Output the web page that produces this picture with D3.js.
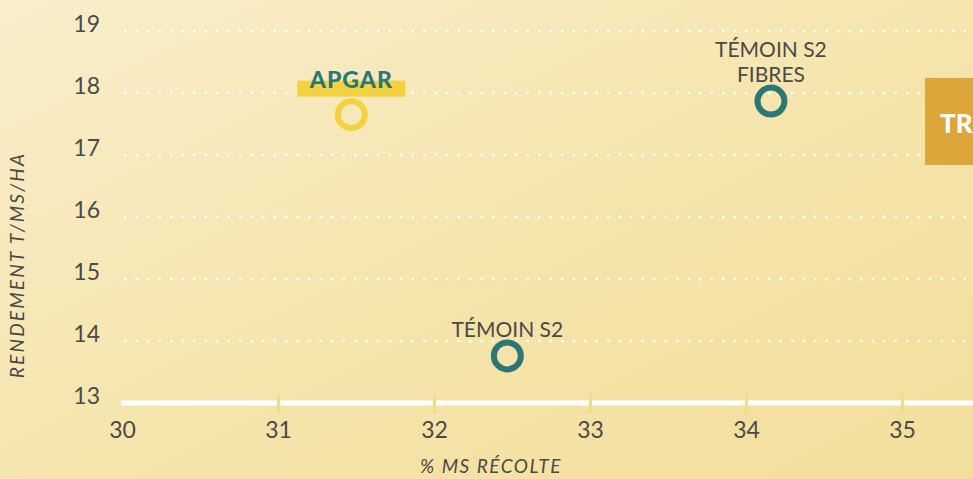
<!DOCTYPE html>
<html>
<head>
<meta charset="utf-8">
<script src="https://cdn.jsdelivr.net/npm/d3@7"></script>
<style>
  html, body { margin: 0; padding: 0; overflow: hidden; }
  svg { display: block; }
</style>
</head>
<body>
<svg width="973" height="479"></svg>
<script>
// data
const names = ["APGAR", "TÉMOIN S2\nFIBRES", "TÉMOIN S2"];
const msRecolte = [31.47, 34.16, 32.47];
const rendement = [17.65, 17.87, 13.76];
const isApgar = [true, false, false];
const xTicks = [30, 31, 32, 33, 34, 35];
const yTicks = [13, 14, 15, 16, 17, 18, 19];

const svg = d3.select('svg');
const W = +svg.attr('width');
const H = +svg.attr('height');

const teal = "#2b7775";
const yellow = "#f3d23f";
const grey = "#4a4a48";
const font = "Lato, 'Noto Sans', sans-serif";

// background gradient
const defs = svg.append("defs");
const grad = defs.append("linearGradient")
  .attr("id", "bg").attr("x1", "0").attr("y1", "0").attr("x2", "1").attr("y2", "1");
grad.append("stop").attr("offset", "0%").attr("stop-color", "#f9eecb");
grad.append("stop").attr("offset", "55%").attr("stop-color", "#f5e4ab");
grad.append("stop").attr("offset", "100%").attr("stop-color", "#f3df9c");
svg.append("rect").attr("width", W).attr("height", H).attr("fill", "url(#bg)");

// scales
const xScale = d3.scaleLinear().domain([30, 35]).range([122, 902]);
const yScale = d3.scaleLinear().domain([13, 19]).range([403, 31]);

// dotted grid lines
svg.append("g")
  .selectAll("line")
  .data(yTicks.filter(d => d > 13))
  .enter()
  .append("line")
  .attr("x1", 124)
  .attr("x2", W)
  .attr("y1", d => yScale(d))
  .attr("y2", d => yScale(d))
  .attr("stroke", "#ffffff")
  .attr("stroke-width", 2.5)
  .attr("stroke-dasharray", "2.5,9");

// y axis labels
const yAxis = svg.append("g")
  .attr("transform", "translate(122,0)")
  .call(d3.axisLeft(yScale).tickValues(yTicks).tickSize(0).tickPadding(22).tickFormat(d3.format("d")));
yAxis.select(".domain").remove();
yAxis.selectAll("text")
  .attr("dy", 0)
  .attr("fill", grey)
  .style("font-family", font)
  .style("font-size", "23px");

// x axis
const xAxis = svg.append("g")
  .attr("transform", "translate(0,403)")
  .call(d3.axisBottom(xScale).tickValues(xTicks).tickFormat(d3.format("d")));
xAxis.select(".domain").remove();
xAxis.insert("line", ":first-child")
  .attr("x1", xScale(30) - 1)
  .attr("x2", W)
  .attr("stroke", "#ffffff")
  .attr("stroke-width", 5);
xAxis.selectAll(".tick line")
  .attr("y1", -9)
  .attr("y2", 10)
  .attr("stroke", "#efdc88")
  .attr("stroke-width", 3)
  .attr("opacity", d => d === 30 ? 0 : 1);
xAxis.selectAll(".tick text")
  .attr("y", 35)
  .attr("dy", 0)
  .attr("fill", grey)
  .style("font-family", font)
  .style("font-size", "23px");

// axis titles
svg.append("text")
  .attr("transform", "translate(24,265) rotate(-90)")
  .attr("text-anchor", "middle")
  .attr("fill", grey)
  .style("font-family", font)
  .style("font-style", "italic")
  .style("font-size", "19px")
  .style("letter-spacing", "2.2px")
  .text("RENDEMENT T/MS/HA");

svg.append("text")
  .attr("x", 491)
  .attr("y", 473)
  .attr("text-anchor", "middle")
  .attr("fill", grey)
  .style("font-family", font)
  .style("font-style", "italic")
  .style("font-size", "19px")
  .style("letter-spacing", "1.5px")
  .text("% MS RÉCOLTE");

// points
const data = names.map((n, i) => ({ name: n, x: msRecolte[i], y: rendement[i], apgar: isApgar[i] }));

svg.append("g")
  .selectAll("circle")
  .data(data)
  .enter()
  .append("circle")
  .attr("cx", d => xScale(d.x))
  .attr("cy", d => yScale(d.y))
  .attr("r", 13.5)
  .attr("fill", "none")
  .attr("stroke", d => d.apgar ? yellow : teal)
  .attr("stroke-width", 6);

// labels
data.forEach(d => {
  const cx = xScale(d.x), cy = yScale(d.y);
  if (d.apgar) {
    svg.append("rect")
      .attr("x", cx - 54)
      .attr("y", cy - 34)
      .attr("width", 108)
      .attr("height", 16)
      .attr("fill", yellow);
    svg.append("text")
      .attr("x", cx)
      .attr("y", cy - 27)
      .attr("text-anchor", "middle")
      .attr("fill", teal)
      .style("font-family", font)
      .style("font-weight", 900)
      .style("font-size", "23px")
      .style("letter-spacing", "1px")
      .text(d.name);
  } else {
    const lines = d.name.split("\n");
    lines.forEach((l, j) => {
      svg.append("text")
        .attr("x", cx)
        .attr("y", cy - 19 - (lines.length - 1 - j) * 25)
        .attr("text-anchor", "middle")
        .attr("fill", grey)
        .style("font-family", font)
        .style("font-size", "21px")
        .text(l);
    });
  }
});

// cut-off box at right edge
svg.append("rect")
  .attr("x", 925)
  .attr("y", 78)
  .attr("width", 60)
  .attr("height", 87)
  .attr("fill", "#dca63b");
svg.append("text")
  .attr("x", 940)
  .attr("y", 133)
  .attr("fill", "#ffffff")
  .style("font-family", font)
  .style("font-weight", 900)
  .style("font-size", "26px")
  .text("TR");
</script>
</body>
</html>
